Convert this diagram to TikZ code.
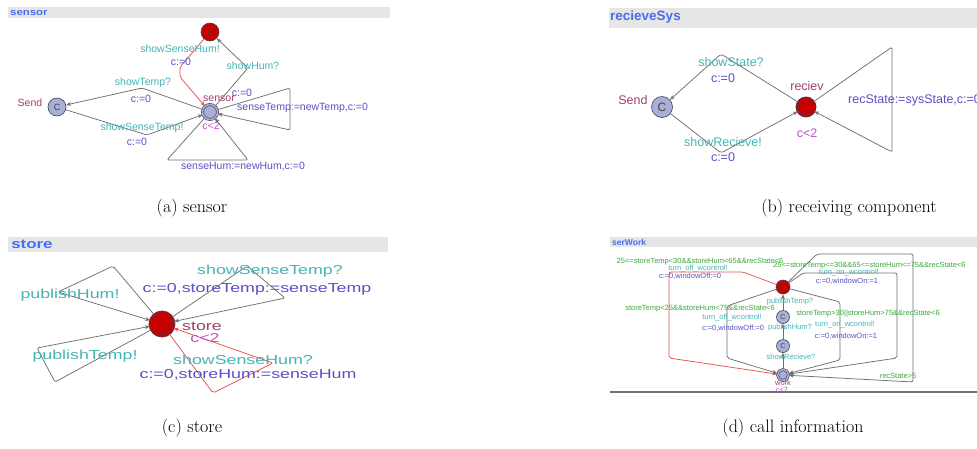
\documentclass[tikz,border=0pt]{standalone}
\usepackage{fontspec}
\newfontfamily\lsans{Liberation Sans}
\usetikzlibrary{arrows.meta}
\definecolor{bargray}{HTML}{E6E6E6}
\definecolor{ttlblue}{HTML}{4A6CF0}
\definecolor{synccol}{HTML}{46B4B4}
\definecolor{assigncol}{HTML}{5A50C8}
\definecolor{namecol}{HTML}{A0406E}
\definecolor{invcol}{HTML}{C050C8}
\definecolor{guardcol}{HTML}{3CA83C}
\definecolor{edgegray}{HTML}{707070}
\definecolor{redline}{HTML}{E05555}
\definecolor{locfill}{HTML}{A8B0D8}
\definecolor{locred}{HTML}{C80000}
\definecolor{locline}{HTML}{404050}
\tikzset{
  bar/.style={fill=bargray, draw=none},
  ttl/.style={anchor=west, text=ttlblue, inner sep=0pt},
  loc/.style={circle, draw=locline, fill=locfill, line width=0.6pt, inner sep=0pt, text=locline},
  redloc/.style={loc, fill=locred},
  initb/.style={double=locfill, double distance=1.6pt},
  initr/.style={double=locred, double distance=1.6pt},
  edge/.style={draw=edgegray, line width=0.75pt, rounded corners=2pt},
  redge/.style={draw=redline, line width=0.75pt, rounded corners=2pt},
  arr/.style={-{Stealth[length=5pt,width=4pt]}},
  tx/.style={inner sep=0pt},
  fa/.style={tx, font=\lsans\fontsize{10.5}{11}\selectfont},
  fb/.style={tx, font=\lsans\fontsize{12.5}{13}\selectfont},
  fc/.style={tx, font=\lsans\fontsize{13}{14}\selectfont, xscale=1.37},
  fd/.style={tx, font=\lsans\fontsize{7.5}{8}\selectfont},
  sy/.style={text=synccol},
  as/.style={text=assigncol},
  nm/.style={text=namecol},
  iv/.style={text=invcol},
  gd/.style={text=guardcol},
  captxt/.style={font=\fontsize{18}{21}\selectfont, inner sep=0pt}
}
\begin{document}
\begin{tikzpicture}[x=1pt,y=-1pt]
\useasboundingbox[fill=white] (0,0) rectangle (977,448);

% ================= (a) sensor =================
\fill[bar] (8,7) rectangle (390,18);
\node[ttl, font=\lsans\bfseries\fontsize{9.5}{10}\selectfont, xscale=1.2] (ta) at (10,12.5) {sensor};
\node[redloc, minimum size=18pt, font=\lsans\fontsize{9}{9}\selectfont] (aC) at (210,32) {C};
\node[loc, minimum size=18pt, font=\lsans\fontsize{9}{9}\selectfont] (aSend) at (57,107) {C};
\node[loc, initb, minimum size=15pt] (aS) at (210,112) {};
\coordinate (a1) at (142,88);
\coordinate (a2) at (147,135);
\coordinate (a3) at (180,67);
\coordinate (a3b) at (180,77);
\coordinate (a4) at (248,68);
\coordinate (a5) at (290,88);
\coordinate (a6) at (290,130);
\coordinate (a7) at (167,160);
\coordinate (a8) at (248,160);
\draw[edge,arr] (aS) -- (a1) -- (aSend);
\draw[edge,arr] (aSend) -- (a2) -- (aS);
\draw[redge,arr] (aC) -- (a3) -- (a3b) -- (aS);
\draw[edge,arr] (aS) -- (a4) -- (aC);
\draw[edge,arr] (aS) -- (a5) -- (a6) -- (aS);
\draw[edge,arr] (aS) -- (a7) -- (a8) -- (aS);
\node[fa,nm] (laSend) at (30,103) {Send};
\node[fa,nm] (laS) at (219,99) {sensor};
\node[fa,iv] (laInv) at (211,126) {c<2};
\node[fa,sy] (la1) at (143,83) {showTemp?};
\node[fa,as] (la1b) at (141,99) {c:=0};
\node[fa,sy] (la2) at (142,128) {showSenseTemp!};
\node[fa,as] (la2b) at (137,142) {c:=0};
\node[fa,sy] (la3) at (180,49) {showSenseHum!};
\node[fa,as] (la3b) at (181,62) {c:=0};
\node[fa,sy] (la4) at (253,66) {showHum?};
\node[fa,as] (la4b) at (242,93) {c:=0};
\node[fa,as,anchor=west] (la5) at (237,108) {senseTemp:=newTemp,c:=0};
\node[fa,as] (la6) at (243,166) {senseHum:=newHum,c:=0};
\node[captxt] (capa) at (192,208) {(a) sensor};

% ================= (b) recieveSys =================
\fill[bar] (609,8) rectangle (977,28);
\node[ttl, font=\lsans\bfseries\fontsize{13.5}{14}\selectfont] (tb) at (610,17) {recieveSys};
\node[loc, minimum size=21pt, font=\lsans\fontsize{12}{12}\selectfont] (bSend) at (662,107) {C};
\node[redloc, initr, minimum size=18pt] (bR) at (806,107) {};
\coordinate (b1) at (721,54);
\coordinate (b2) at (721,153);
\coordinate (b3) at (892,47);
\coordinate (b4) at (892,152);
\draw[edge,arr] (bR) -- (b1) -- (bSend);
\draw[edge,arr] (bSend) -- (b2) -- (bR);
\draw[edge,arr] (bR) -- (b3) -- (b4) -- (bR);
\node[fb,nm] (lbSend) at (633,100) {Send};
\node[fb,nm] (lbR) at (807,86) {reciev};
\node[fb,iv] (lbInv) at (807,133) {c<2};
\node[fb,sy] (lb1) at (731,62) {showState?};
\node[fb,as] (lb1b) at (723,78) {c:=0};
\node[fb,sy] (lb2) at (723,142) {showRecieve!};
\node[fb,as] (lb2b) at (723,157) {c:=0};
\node[fb,as,anchor=west] (lb3) at (848,100) {recState:=sysState,c:=0};
\node[captxt] (capb) at (849,208) {(b) receiving component};

% ================= (c) store =================
\fill[bar] (8,237) rectangle (388,252);
\node[ttl, font=\lsans\bfseries\fontsize{13}{14}\selectfont, xscale=1.3] (tc) at (11,244) {store};
\node[redloc, initr, minimum size=24pt] (cS) at (162,324) {};
\coordinate (c1) at (113,266);
\coordinate (c2) at (58,292);
\coordinate (c3) at (247,266);
\coordinate (c4) at (285,298);
\coordinate (c5) at (37,348);
\coordinate (c6) at (55,382);
\coordinate (c7) at (273,363);
\coordinate (c8) at (213,393);
\draw[edge,arr] (cS) -- (c1) -- (c2) -- (cS);
\draw[edge,arr] (cS) -- (c3) -- (c4) -- (cS);
\draw[edge,arr] (cS) -- (c6) -- (c5) -- (cS);
\draw[redge,arr] (cS) -- (c8) -- (c7) -- (cS);
\node[fc,nm] (lcS) at (202,326) {store};
\node[fc,iv] (lcInv) at (205,338) {c<2};
\node[fc,sy] (lc1) at (70,295) {publishHum!};
\node[fc,sy] (lc2) at (270,271) {showSenseTemp?};
\node[fc,as] (lc2b) at (257,289) {c:=0,storeTemp:=senseTemp};
\node[fc,sy] (lc3) at (85,356) {publishTemp!};
\node[fc,sy] (lc4) at (243,360) {showSenseHum?};
\node[fc,as] (lc4b) at (248,375) {c:=0,storeHum:=senseHum};
\node[captxt] (capc) at (192,428) {(c) store};

% ================= (d) serWork =================
\fill[bar] (610,237) rectangle (977,247);
\node[ttl, font=\lsans\bfseries\fontsize{8.5}{9}\selectfont] (td) at (612,242) {serWork};
\draw[edgegray, line width=1.2pt] (610,392) -- (977,392);
\node[redloc, minimum size=14pt, font=\lsans\fontsize{7}{7}\selectfont] (dC) at (783,287) {C};
\node[loc, minimum size=13pt, font=\lsans\fontsize{7}{7}\selectfont] (d2) at (783,317) {C};
\node[loc, minimum size=13pt, font=\lsans\fontsize{7}{7}\selectfont] (d3) at (783,346) {C};
\node[loc, initb, minimum size=11pt] (dW) at (783,375) {};
\coordinate (d11) at (743,272);
\coordinate (d12) at (669,272);
\coordinate (d13) at (669,358);
\coordinate (d21) at (727,306);
\coordinate (d22) at (727,358);
\coordinate (d31) at (840,302);
\coordinate (d32) at (840,360);
\coordinate (d41) at (803,273);
\coordinate (d42) at (897,273);
\coordinate (d43) at (897,358);
\coordinate (d51) at (817,254);
\coordinate (d52) at (913,254);
\coordinate (d53) at (913,382);
\draw[edge,arr] (dW) -- (d3);
\draw[edge,arr] (d3) -- (d2);
\draw[edge,arr] (d2) -- (dC);
\draw[redge,arr] (dC) -- (d11) -- (d12) -- (d13) -- (dW);
\draw[edge,arr] (dC) -- (d21) -- (d22) -- (dW);
\draw[edge,arr] (dC) -- (d31) -- (d32) -- (dW);
\draw[edge,arr] (dC) -- (d41) -- (d42) -- (d43) -- (dW);
\draw[edge,arr] (dC) -- (d51) -- (d52) -- (d53) -- (dW);
\node[fd,gd] (ld1) at (700,262) {25<=storeTemp<30\&\&storeHum<65\&\&recState<6};
\node[fd,sy] (ld1b) at (698,269) {turn\_off\_wcontrol!};
\node[fd,as] (ld1c) at (690,276) {c:=0,windowOff:=0};
\node[fd,gd] (ld2) at (700,309) {storeTemp<25\&\&storeHum<75\&\&recState<6};
\node[fd,sy] (ld2b) at (732,318) {turn\_off\_wcontrol!};
\node[fd,as] (ld2c) at (733,328) {c:=0,windowOff:=0};
\node[fd,sy] (ldp1) at (790,302) {publishTemp?};
\node[fd,sy] (ldp2) at (790,328) {publishHum?};
\node[fd,sy] (ldp3) at (791,357) {showRecieve?};
\node[fd,gd] (ld3) at (868,314) {storeTemp>30||storeHum>75\&\&recState<6};
\node[fd,sy] (ld3b) at (845,325) {turn\_on\_wcontrol!};
\node[fd,as] (ld3c) at (846,336) {c:=0,windowOn:=1};
\node[fd,gd,anchor=west] (ld4) at (773,266) {25<=storeTemp<=30\&\&65<=storeHum<=75\&\&recState<6};
\node[fd,sy] (ld4b) at (849,273) {turn\_on\_wcontrol!};
\node[fd,as] (ld4c) at (847,281) {c:=0,windowOn:=1};
\node[fd,gd] (ld5) at (898,376) {recState>5};
\node[fd,nm] (ldW) at (783,383) {work};
\node[fd,iv] (ldInv) at (782,390) {c<2};
\node[captxt] (capd) at (793,428) {(d) call information};
\end{tikzpicture}
\end{document}
